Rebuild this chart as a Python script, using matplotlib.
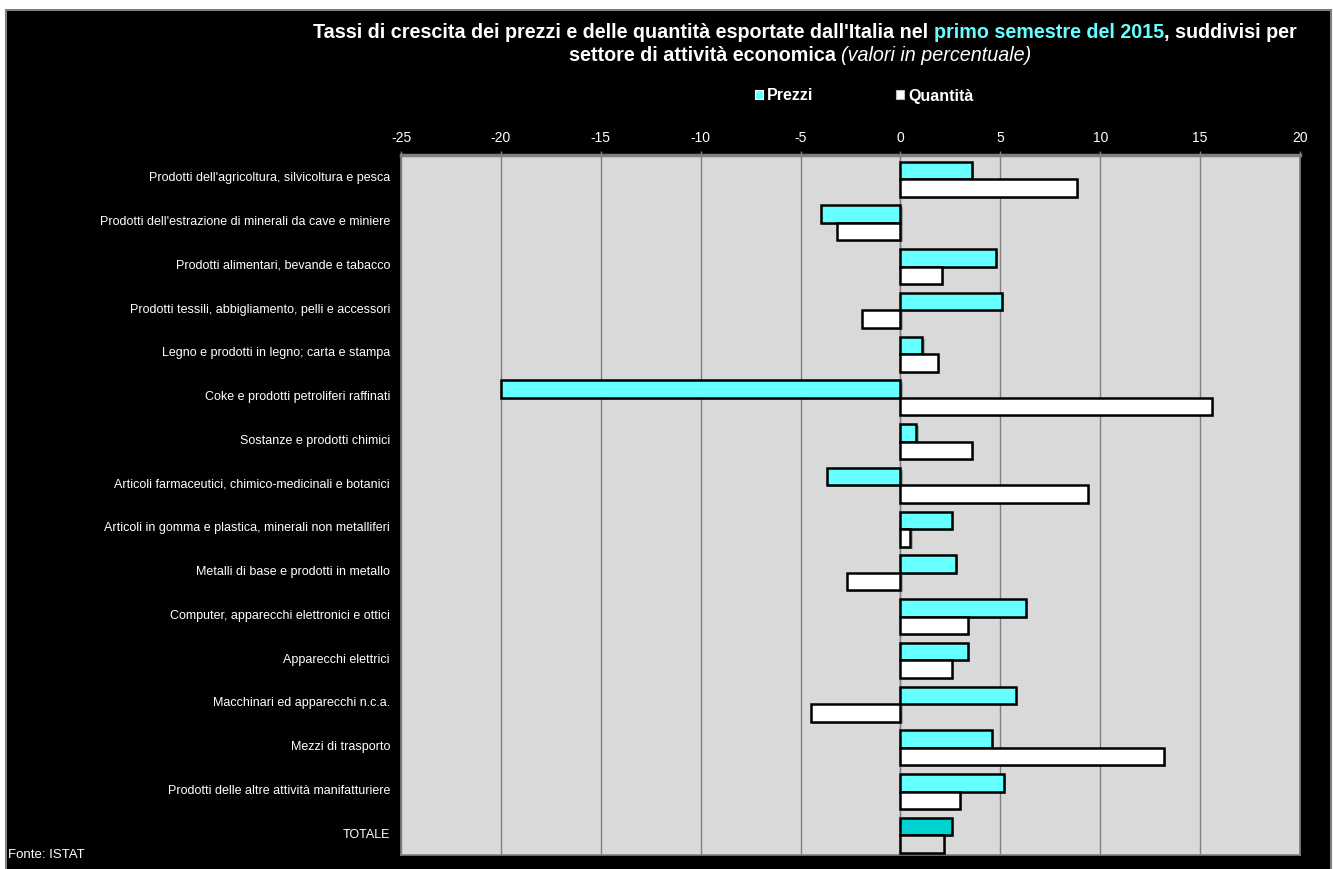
import numpy as np
import matplotlib
matplotlib.use("Agg")
import matplotlib.pyplot as plt
import matplotlib.patheffects as pe
import matplotlib.transforms as mtransforms
from matplotlib.patches import Patch, Rectangle

plt.rcParams['font.family'] = ['Liberation Sans', 'DejaVu Sans']
plt.rcParams['axes.unicode_minus'] = False

settori = [
    "Prodotti dell'agricoltura, silvicoltura e pesca",
    "Prodotti dell'estrazione di minerali da cave e miniere",
    "Prodotti alimentari, bevande e tabacco",
    "Prodotti tessili, abbigliamento, pelli e accessori",
    "Legno e prodotti in legno; carta e stampa",
    "Coke e prodotti petroliferi raffinati",
    "Sostanze e prodotti chimici",
    "Articoli farmaceutici, chimico-medicinali e botanici",
    "Articoli in gomma e plastica, minerali non metalliferi",
    "Metalli di base e prodotti in metallo",
    "Computer, apparecchi elettronici e ottici",
    "Apparecchi elettrici",
    "Macchinari ed apparecchi n.c.a.",
    "Mezzi di trasporto",
    "Prodotti delle altre attività manifatturiere",
    "TOTALE",
]
prezzi = [3.6, -4.0, 4.8, 5.1, 1.1, -20.0, 0.8, -3.7, 2.6, 2.8, 6.3, 3.4, 5.8, 4.6, 5.2, 2.6]
quantita = [8.85, -3.2, 2.1, -1.9, 1.9, 15.6, 3.6, 9.4, 0.5, -2.7, 3.4, 2.6, -4.5, 13.2, 3.0, 2.2]
xticks = [-25, -20, -15, -10, -5, 0, 5, 10, 15, 20]

cyan = '#66FFFF'
bg = '#D9D9D9'
grid = '#808080'

fig = plt.figure(figsize=(13.33, 8.69), dpi=100, facecolor='white')
# black frame of the chart
fig.patches.append(Rectangle((6 / 1333, -0.01), 1325 / 1333, (869 - 10) / 869 + 0.01,
                             transform=fig.transFigure, facecolor='black',
                             edgecolor='#7F7F7F', linewidth=1.5, zorder=-5))

ax = fig.add_axes([401 / 1333, 1 - 855 / 869, 899 / 1333, 700 / 869])
ax.set_zorder(2)
ax.set_facecolor(bg)

y = np.arange(len(settori))
h = 0.4
shadow = [pe.SimplePatchShadow(offset=(1.5, -1.5), alpha=0.35), pe.Normal()]

p_cols = [cyan] * (len(settori) - 1) + ['#00D2D2']
q_cols = ['white'] * (len(settori) - 1) + [bg]
bp = ax.barh(y - h / 2 + 0.05, prezzi, height=h, color=p_cols, edgecolor='black', linewidth=1.8, zorder=3)
bq = ax.barh(y + h / 2 + 0.05, quantita, height=h, color=q_cols, edgecolor='black', linewidth=1.8, zorder=3)
for b in list(bp) + list(bq):
    b.set_path_effects(shadow)

ax.set_xlim(-25, 20)
ax.set_ylim(len(settori) - 0.5, -0.5)
ax.set_xticks(xticks)
ax.xaxis.tick_top()
ax.tick_params(axis='x', colors=grid, labelcolor='white', labelsize=10, length=3, width=1, pad=4)
ax.set_yticks(y)
ax.set_yticklabels(settori, color='white', fontsize=9)
ax.tick_params(axis='y', length=0, pad=8)
ax.grid(axis='x', color=grid, linewidth=1, zorder=1)
ax.set_axisbelow(True)
ax.axvline(0, color=grid, linewidth=1, zorder=2)
for sp in ax.spines.values():
    sp.set_color(grid)
    sp.set_linewidth(1.2)
ax.spines['top'].set_linewidth(2.5)

# title with coloured part
fs = 14.2
tkw = dict(fontsize=fs, fontweight='bold', color='white', va='baseline')
t1 = fig.text(0, 0, "Tassi di crescita dei prezzi e delle quantità esportate dall'Italia nel ", **tkw)
t2 = fig.text(0, 0, "primo semestre del 2015", fontsize=fs, fontweight='bold', color=cyan, va='baseline')
t3 = fig.text(0, 0, ", suddivisi per", **tkw)
l2a = fig.text(0, 0, "settore di attività economica ", **tkw)
l2b = fig.text(0, 0, "(valori in percentuale)", fontsize=fs, fontstyle='italic', color='white', va='baseline')
fig.canvas.draw()
r = fig.canvas.get_renderer()


def place_line(parts, ypos, xcen):
    widths = [p.get_window_extent(r).width for p in parts]
    x = xcen * fig.bbox.width - sum(widths) / 2
    for p, w in zip(parts, widths):
        p.set_transform(mtransforms.IdentityTransform())
        p.set_position((x, ypos * fig.bbox.height))
        x += w


place_line([t1, t2, t3], 1 - 38 / 869, 805 / 1333)
place_line([l2a, l2b], 1 - 61 / 869, 800 / 1333)

handles = [Patch(facecolor=cyan, edgecolor='white', linewidth=0.8),
           Patch(facecolor='white', edgecolor='#BBBBBB', linewidth=0.8)]
fig.legend(handles, ['Prezzi', 'Quantità'], loc='center', bbox_to_anchor=(864 / 1333, 1 - 96 / 869),
           ncol=2, frameon=False, handlelength=0.5, handleheight=0.5, handletextpad=0.25,
           columnspacing=5.2, prop={'weight': 'bold', 'size': 11.5}, labelcolor='white')

fig.text(8 / 1333, 1 - 858 / 869, "Fonte: ISTAT", color='white', fontsize=9.5, va='baseline')

fig.savefig('out.png', dpi=100, facecolor=fig.get_facecolor())
